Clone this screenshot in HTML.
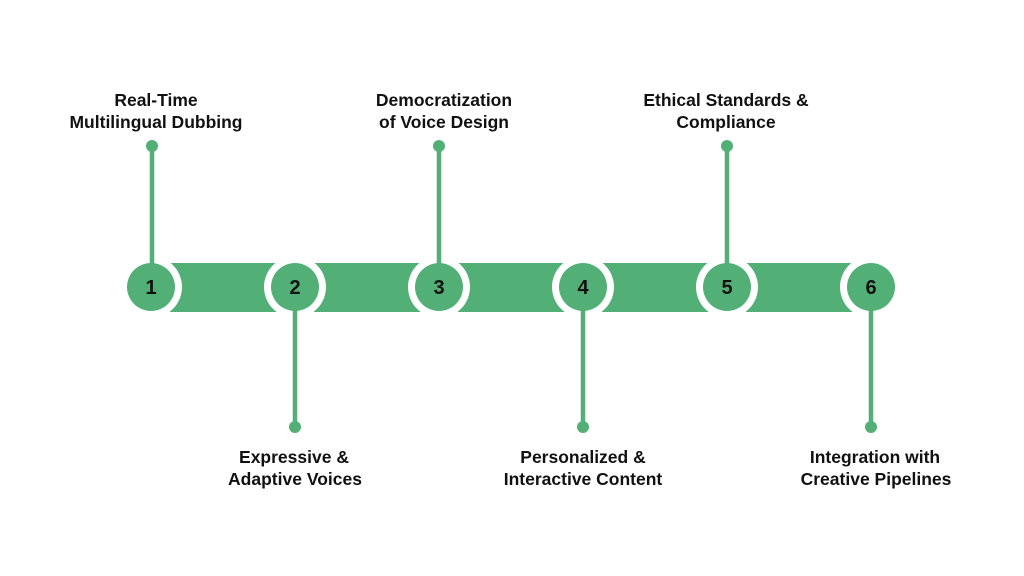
<!DOCTYPE html>
<html><head><meta charset="utf-8"><style>
html,body{margin:0;padding:0;background:#fff;}
svg{display:block}
text{font-family:"Liberation Sans",Arial,sans-serif;font-weight:bold;fill:#111;}
</style></head><body>
<svg width="1024" height="576" viewBox="0 0 1024 576">
<rect width="1024" height="576" fill="#fff"/>
<rect x="151" y="263" width="720" height="49" fill="#52b076"/>
<g fill="#fff">
<circle cx="151" cy="287" r="31"/><circle cx="295" cy="287" r="31"/><circle cx="439" cy="287" r="31"/>
<circle cx="583" cy="287" r="31"/><circle cx="727" cy="287" r="31"/><circle cx="871" cy="287" r="31"/>
</g>
<g stroke="#52b076" stroke-width="4.5">
<line x1="152" y1="146" x2="152" y2="265"/>
<line x1="439" y1="146" x2="439" y2="265"/>
<line x1="727" y1="146" x2="727" y2="265"/>
<line x1="295" y1="310" x2="295" y2="427"/>
<line x1="583" y1="310" x2="583" y2="427"/>
<line x1="871" y1="310" x2="871" y2="427"/>
</g>
<g fill="#52b076">
<circle cx="151" cy="287" r="24"/><circle cx="295" cy="287" r="24"/><circle cx="439" cy="287" r="24"/>
<circle cx="583" cy="287" r="24"/><circle cx="727" cy="287" r="24"/><circle cx="871" cy="287" r="24"/>
<circle cx="152" cy="146" r="6"/><circle cx="439" cy="146" r="6"/><circle cx="727" cy="146" r="6"/>
<circle cx="295" cy="427" r="6"/><circle cx="583" cy="427" r="6"/><circle cx="871" cy="427" r="6"/>
</g>
<g font-size="20" text-anchor="middle">
<text x="151" y="294">1</text><text x="295" y="294">2</text><text x="439" y="294">3</text>
<text x="583" y="294">4</text><text x="727" y="294">5</text><text x="871" y="294">6</text>
</g>
<g font-size="17.5" text-anchor="middle">
<text x="156" y="106">Real-Time</text><text x="156" y="128">Multilingual Dubbing</text>
<text x="444" y="106">Democratization</text><text x="444" y="128">of Voice Design</text>
<text x="726" y="106">Ethical Standards &amp;</text><text x="726" y="128">Compliance</text>
<text x="294" y="463">Expressive &amp;</text><text x="295" y="485">Adaptive Voices</text>
<text x="583" y="463">Personalized &amp;</text><text x="583" y="485">Interactive Content</text>
<text x="875" y="463">Integration with</text><text x="876" y="485">Creative Pipelines</text>
</g>
</svg>
</body></html>
